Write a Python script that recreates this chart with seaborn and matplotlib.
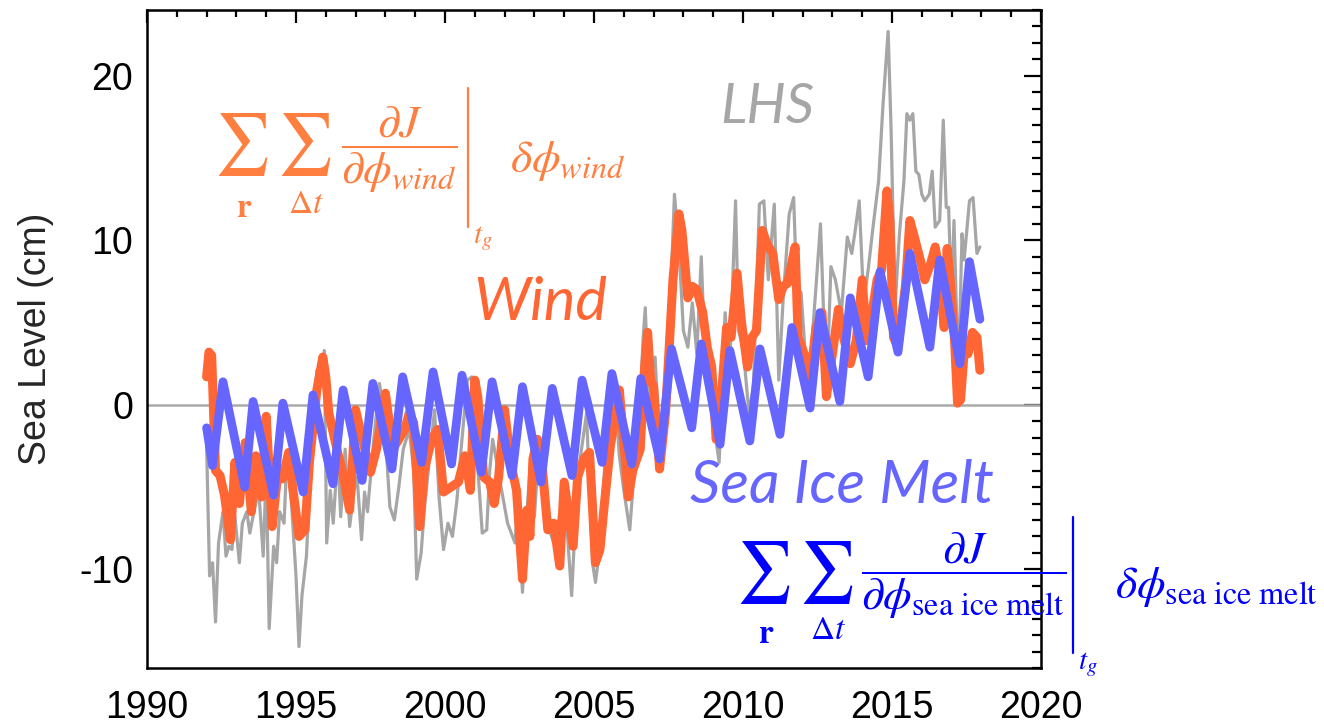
import matplotlib
matplotlib.use("Agg")
import matplotlib.pyplot as plt
from matplotlib.lines import Line2D
import seaborn as sns
import pandas as pd
from matplotlib.ticker import MultipleLocator

# --- data (decimal year, sea level in cm) ---
lhs_year = [1992.0, 1992.1, 1992.2, 1992.3, 1992.4, 1992.55, 1992.65, 1992.75, 1992.85, 1992.95,
            1993.1, 1993.2, 1993.35, 1993.45, 1993.6, 1993.75, 1993.9, 1994.0, 1994.1, 1994.25,
            1994.35, 1994.45, 1994.6, 1994.7, 1994.85, 1995.0, 1995.1, 1995.2, 1995.35, 1995.5,
            1995.7, 1995.85, 1995.95, 1996.03, 1996.15, 1996.25, 1996.4, 1996.5, 1996.65, 1996.8,
            1996.95, 1997.05, 1997.2, 1997.3, 1997.4, 1997.6, 1997.8, 1997.95, 1998.15, 1998.3,
            1998.45, 1998.6, 1998.8, 1998.95, 1999.05, 1999.2, 1999.3, 1999.5, 1999.65, 1999.8,
            1999.95, 2000.1, 2000.25, 2000.4, 2000.55, 2000.75, 2000.9, 2001.05, 2001.25, 2001.4,
            2001.5, 2001.6, 2001.85, 2002.1, 2002.35, 2002.45, 2002.6, 2002.75, 2002.85, 2003.0,
            2003.15, 2003.3, 2003.5, 2003.65, 2003.8, 2004.0, 2004.25, 2004.4, 2004.55, 2004.75,
            2004.95, 2005.05, 2005.2, 2005.35, 2005.5, 2005.7, 2005.85, 2006.0, 2006.2, 2006.35,
            2006.5, 2006.65, 2006.72, 2006.85, 2007.05, 2007.2, 2007.35, 2007.5, 2007.7, 2007.85,
            2008.0, 2008.15, 2008.3, 2008.45, 2008.6, 2008.7, 2008.85, 2009.0, 2009.2, 2009.3,
            2009.4, 2009.55, 2009.75, 2009.85, 2010.0, 2010.2, 2010.35, 2010.55, 2010.7, 2010.85,
            2011.05, 2011.2, 2011.35, 2011.55, 2011.7, 2011.8, 2011.95, 2012.15, 2012.3, 2012.45,
            2012.6, 2012.7, 2012.85, 2012.95, 2013.1, 2013.3, 2013.5, 2013.65, 2013.75, 2013.9,
            2014.05, 2014.2, 2014.35, 2014.55, 2014.7, 2014.87, 2014.97, 2015.1, 2015.25, 2015.4,
            2015.5, 2015.6, 2015.7, 2015.8, 2015.9, 2016.0, 2016.1, 2016.25, 2016.35, 2016.45,
            2016.6, 2016.72, 2016.82, 2016.9, 2017.0, 2017.08, 2017.17, 2017.25, 2017.35, 2017.42,
            2017.5, 2017.6, 2017.72, 2017.85, 2017.95]
lhs_cm = [-2.5, -10.4, -9.6, -13.2, -8.4, -6.5, -9.2, -8.6, -8.8, -6.8,
          -9.6, -7.2, -6.5, -7.8, -6.4, -5.2, -9.2, -4.0, -13.6, -8.6,
          -9.6, -6.5, -7.2, -2.9, -6.0, -10.4, -14.7, -11.6, -9.2, -3.5,
          2.1, 1.9, 3.3, -8.4, -5.2, -7.2, -2.9, -6.8, -2.7, -7.4,
          -5.2, -4.4, -8.2, -5.3, -6.5, -2.3, 1.3, -0.5, -6.2, -7.0,
          -5.0, -2.7, -1.5, -4.0, -10.6, -9.0, -6.5, -2.9, -0.3, -5.6,
          -8.8, -7.2, -8.0, -5.8, -2.5, 1.5, 1.7, -2.5, -7.8, -7.6,
          -4.0, -2.1, -4.7, -7.2, -8.4, -6.0, -11.4, -6.5, -4.0, -6.8,
          -2.7, -6.0, -7.6, -8.4, -7.2, -5.0, -11.6, -6.0, -3.1, -0.5,
          -9.6, -10.8, -8.6, -4.0, -0.7, 0.9, -3.1, -5.2, -7.6, -4.0,
          -1.5, 4.1, 5.9, -0.1, 2.9, -2.5, -0.1, 3.5, 12.8, 9.6,
          4.5, 3.5, 6.2, 3.1, 9.0, 4.1, 0.7, -0.9, -3.5, 1.5,
          5.6, 2.1, 12.4, 4.5, 3.5, -0.5, 1.1, 12.2, 12.4, 7.6,
          12.2, 1.5, 6.5, 11.6, 12.6, 7.2, 6.8, 1.5, 3.5, 7.2,
          11.0, 5.8, 3.1, 8.4, 7.6, 5.6, 10.2, 9.2, 10.4, 12.4,
          6.2, 8.2, 10.6, 13.6, 18.3, 22.7, 16.7, 5.9, 10.4, 13.6,
          17.7, 17.3, 17.7, 14.2, 14.0, 12.8, 12.4, 12.8, 14.2, 10.8,
          11.2, 17.3, 12.0, 12.0, 6.2, 11.2, 5.2, 3.1, 10.4, 8.8,
          10.4, 12.4, 12.6, 9.2, 9.6]

wind_year = [1992.0, 1992.08, 1992.17, 1992.3, 1992.45, 1992.6, 1992.8, 1992.95, 1993.1, 1993.3,
             1993.5, 1993.65, 1993.85, 1994.0, 1994.2, 1994.4, 1994.55, 1994.75, 1994.9, 1995.1,
             1995.3, 1995.45, 1995.7, 1995.9, 1996.0, 1996.1, 1996.4, 1996.55, 1996.8, 1997.0,
             1997.15, 1997.5, 1997.7, 1998.0, 1998.25, 1998.65, 1998.8, 1998.95, 1999.15, 1999.3,
             1999.55, 1999.75, 1999.95, 2000.2, 2000.45, 2000.67, 2000.85, 2001.0, 2001.1, 2001.3,
             2001.5, 2001.65, 2001.8, 2002.0, 2002.2, 2002.4, 2002.6, 2002.75, 2002.85, 2002.95,
             2003.1, 2003.25, 2003.45, 2003.65, 2003.85, 2004.0, 2004.3, 2004.45, 2004.65, 2004.85,
             2005.05, 2005.2, 2005.35, 2005.55, 2005.7, 2005.85, 2006.0, 2006.15, 2006.3, 2006.55,
             2006.7, 2006.8, 2006.9, 2007.0, 2007.2, 2007.4, 2007.65, 2007.85, 2007.95, 2008.15,
             2008.3, 2008.45, 2008.65, 2008.8, 2008.95, 2009.1, 2009.25, 2009.45, 2009.6, 2009.8,
             2009.95, 2010.15, 2010.3, 2010.45, 2010.65, 2010.8, 2011.0, 2011.2, 2011.35, 2011.5,
             2011.7, 2011.75, 2011.85, 2012.05, 2012.25, 2012.45, 2012.65, 2012.8, 2013.0, 2013.2,
             2013.4, 2013.6, 2013.8, 2014.0, 2014.15, 2014.35, 2014.5, 2014.65, 2014.83, 2014.93,
             2015.05, 2015.2, 2015.45, 2015.6, 2015.75, 2015.95, 2016.1, 2016.3, 2016.45, 2016.6,
             2016.75, 2016.85, 2016.95, 2017.1, 2017.2, 2017.3, 2017.45, 2017.55, 2017.7, 2017.85,
             2017.95]
wind_cm = [1.7, 3.2, 3.0, -4.0, -4.3, -5.5, -8.2, -3.5, -6.0, -2.3,
           -6.5, -3.1, -5.6, -0.7, -7.4, -4.0, -4.5, -2.9, -5.2, -8.0,
           -7.6, -3.5, 0.9, 2.9, 1.7, -0.5, -2.9, -4.0, -6.4, -0.3,
           -1.5, -4.1, -2.7, 0.7, -2.7, -1.5, -0.5, -1.1, -7.4, -4.0,
           -2.1, -1.5, -5.3, -5.0, -4.7, -3.1, -5.2, 1.5, 0.5, -4.4,
           -4.7, -6.0, -4.4, -0.3, -3.5, -5.2, -10.6, -6.4, -8.0, -3.3,
           -2.1, -3.5, -7.6, -7.2, -9.8, -4.7, -8.6, -4.4, -3.3, -2.9,
           -9.6, -8.8, -6.0, -2.5, -0.9, 0.9, -2.3, -5.6, -4.0, -2.7,
           2.3, 4.4, 1.5, 1.1, -3.9, -0.5, 7.6, 11.6, 10.6, 6.5,
           7.2, 7.0, 5.6, 3.5, 2.3, -2.1, -0.1, 4.7, 4.1, 8.0,
           5.0, 2.3, 4.1, 4.5, 10.6, 9.8, 9.2, 6.4, 7.2, 7.4,
           9.2, 9.6, 4.1, 3.1, 1.5, 4.7, 5.6, 0.5, 3.1, 5.8,
           3.9, 2.5, 3.9, 7.6, 3.9, 5.8, 7.6, 8.2, 13.0, 11.2,
           4.1, 3.5, 7.2, 11.2, 10.2, 8.8, 7.6, 8.6, 9.6, 8.0,
           4.7, 9.5, 7.6, 3.9, 0.1, 0.3, 3.9, 3.1, 4.4, 4.1,
           2.1]

ice_year = [1992.0, 1992.2, 1992.55, 1993.28, 1993.56, 1994.25, 1994.56, 1995.24, 1995.57, 1996.24,
            1996.58, 1997.22, 1997.58, 1998.22, 1998.58, 1999.22, 1999.6, 2000.22, 2000.57, 2001.22,
            2001.58, 2002.25, 2002.6, 2003.22, 2003.6, 2004.26, 2004.6, 2005.27, 2005.6, 2006.27,
            2006.57, 2007.2, 2007.6, 2008.28, 2008.6, 2009.23, 2009.56, 2010.23, 2010.57, 2011.24,
            2011.64, 2012.25, 2012.58, 2013.25, 2013.6, 2014.2, 2014.6, 2015.2, 2015.6, 2016.27,
            2016.6, 2017.28, 2017.6, 2017.95]
ice_cm = [-1.4, -3.7, 1.4, -5.0, 0.2, -5.5, 0.1, -5.3, 0.6, -4.8,
          0.9, -4.6, 1.3, -3.9, 1.7, -3.5, 2.0, -3.6, 1.8, -4.1,
          1.4, -4.3, 1.1, -4.7, 1.0, -4.3, 1.5, -3.5, 1.9, -3.6,
          1.6, -3.3, 3.4, -1.4, 3.7, -2.4, 3.3, -2.2, 3.4, -1.8,
          4.7, -0.2, 5.6, 0.2, 6.5, 1.7, 8.1, 3.2, 9.2, 3.5,
          8.8, 2.5, 8.7, 5.2]

GRAY = "#A6A6A6"
ORANGE = "#FF6633"
ORANGE_EQ = "#FF7F40"
PURPLE = "#6666FF"
BLUE_EQ = "#0000FF"
W, H = 1324, 726

sns.set_style("white")
plt.rcParams["font.family"] = ["Liberation Sans", "DejaVu Sans"]
plt.rcParams["mathtext.fontset"] = "stix"
plt.rcParams["axes.unicode_minus"] = False

lhs = pd.DataFrame({"year": lhs_year, "cm": lhs_cm})
wind = pd.DataFrame({"year": wind_year, "cm": wind_cm})
ice = pd.DataFrame({"year": ice_year, "cm": ice_cm})

fig = plt.figure(figsize=(W / 100, H / 100), dpi=100)
ax = fig.add_axes([147 / W, 58 / H, 894 / W, 658 / H])

ax.axhline(0, color="#AAAAAA", lw=1.8, zorder=1)
sns.lineplot(data=lhs, x="year", y="cm", color=GRAY, lw=2.3, estimator=None, sort=False, ax=ax, zorder=2)
sns.lineplot(data=wind, x="year", y="cm", color=ORANGE, lw=6.5, estimator=None, sort=False, ax=ax, zorder=3)
sns.lineplot(data=ice, x="year", y="cm", color=PURPLE, lw=6.3, estimator=None, sort=False, ax=ax, zorder=4)

ax.set_xlim(1990, 2020)
ax.set_ylim(-16, 24)
ax.set_xlabel("")
ax.set_ylabel("Sea Level (cm)", fontsize=27, labelpad=18)
ax.xaxis.set_major_locator(MultipleLocator(5))
ax.xaxis.set_minor_locator(MultipleLocator(1))
ax.yaxis.set_major_locator(MultipleLocator(10))
ax.yaxis.set_minor_locator(MultipleLocator(1))
ax.tick_params(axis="both", which="both", direction="in", top=True, right=True, width=1.6, colors="black")
ax.tick_params(axis="x", which="major", length=9, pad=16, labelsize=27)
ax.tick_params(axis="x", which="minor", length=5)
ax.tick_params(axis="y", which="major", length=12, pad=10, labelsize=27)
ax.tick_params(axis="y", which="minor", length=6.5)
for s in ax.spines.values():
    s.set_linewidth(1.8)
    s.set_color("black")

# series names
ax.text(0.641, 0.828, "LHS", transform=ax.transAxes, color=GRAY, fontsize=40,
        family="Lato", style="italic", ha="left", va="baseline")
ax.text(0.365, 0.529, "Wind", transform=ax.transAxes, color=ORANGE, fontsize=43,
        family="Lato", style="italic", ha="left", va="baseline")
ax.text(0.607, 0.251, "Sea Ice Melt", transform=ax.transAxes, color=PURPLE, fontsize=43,
        family="Lato", style="italic", ha="left", va="baseline")


def px(x, y):
    return x / W, 1 - y / H


def equation(color, x0, y0, sum_dy, frac, frac_w, bar_x, bar_top, bar_bot, tail, tail_x):
    # two sums with their index labels
    fig.text(*px(x0 - 6, y0 - sum_dy), r"$\sum\,\sum$", color=color, fontsize=44, ha="left", va="top")
    fig.text(*px(x0 + 24, y0 + 68), r"$\mathbf{r}$", color=color, fontsize=24, ha="center", va="top")
    fig.text(*px(x0 + 86, y0 + 64), r"$\Delta t$", color=color, fontsize=24, ha="center", va="top")
    # derivative fraction
    fig.text(*px(x0 + 118 + frac_w / 2, y0 - 20), frac, color=color, fontsize=33, ha="center", va="top")
    # evaluation bar |_{t_g}
    fig.add_artist(Line2D([bar_x / W, bar_x / W], [1 - bar_top / H, 1 - bar_bot / H], color=color, lw=1.6))
    fig.text(*px(bar_x + 5, bar_bot + 16), r"$t_g$", color=color, fontsize=21, ha="left", va="baseline")
    fig.text(*px(tail_x, y0 + 47), tail, color=color, fontsize=33, ha="left", va="baseline")


equation(ORANGE_EQ, 220, 125, 14, r"$\dfrac{\partial J}{\partial\phi_{wind}}$", 122,
         468, 88, 227, r"$\delta\phi_{wind}$", 510)
equation(BLUE_EQ, 742, 551, 12, r"$\dfrac{\partial J}{\partial\phi_{\mathrm{sea\ ice\ melt}}}$", 207,
         1073, 517, 653, r"$\delta\phi_{\mathrm{sea\ ice\ melt}}$", 1115)

fig.savefig("out.png", dpi=100)
